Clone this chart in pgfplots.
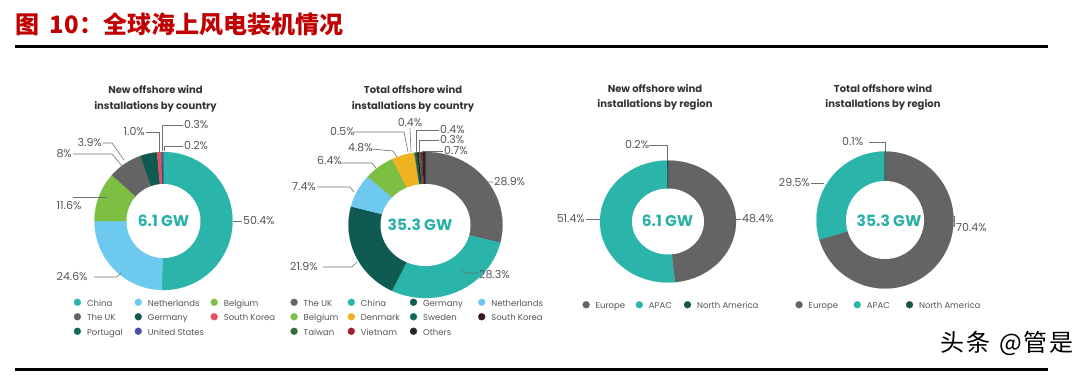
\documentclass[border=0pt]{standalone}
\usepackage{fontspec}
\setmainfont{Poppins}
\newfontfamily\cjk{Noto Sans CJK SC}
\usepackage{pgfplots}
\usepackage{pgfplotstable}
\pgfplotsset{compat=1.18}

\definecolor{cRed}{HTML}{C00000}
\definecolor{cTeal}{HTML}{2AB4AA}
\definecolor{cLBlue}{HTML}{6DC9EE}
\definecolor{cGreen}{HTML}{7CBF43}
\definecolor{cGray}{HTML}{646464}
\definecolor{cDTeal}{HTML}{0F5B52}
\definecolor{cPink}{HTML}{E4505F}
\definecolor{cPort}{HTML}{0E6A5C}
\definecolor{cUS}{HTML}{4B4FA6}
\definecolor{cYellow}{HTML}{EFB322}
\definecolor{cSweden}{HTML}{10695B}
\definecolor{cSKd}{HTML}{3B1B22}
\definecolor{cTaiwan}{HTML}{336E38}
\definecolor{cViet}{HTML}{A51D33}
\definecolor{cOthers}{HTML}{262626}
\definecolor{cNA}{HTML}{17554C}
\definecolor{cLab}{HTML}{555555}
\definecolor{cLine}{HTML}{707070}
\definecolor{cTitle}{HTML}{333333}
\definecolor{cCenter}{HTML}{2AB0A6}

% ---------------- data (percent shares) ----------------
\pgfplotstableread[col sep=comma]{
name,pct,color,lw
China,50.4,cTeal,49.7
Netherlands,24.6,cLBlue,64.7
Belgium,11.6,cGreen,60
The UK,8,cGray,49.7
Germany,3.9,cDTeal,64.7
South Korea,1.0,cPink,60
Portugal,0.3,cPort,49.7
United States,0.2,cUS,64.7
}\tNewCountry

\pgfplotstableread[col sep=comma]{
name,pct,color,lw
The UK,28.9,cGray,46
China,28.3,cTeal,51
Germany,21.9,cDTeal,57
Netherlands,7.4,cLBlue,60
Belgium,6.4,cGreen,46
Denmark,4.8,cYellow,51
Sweden,0.5,cSweden,57
South Korea,0.4,cSKd,60
Taiwan,0.4,cTaiwan,46
Vietnam,0.3,cViet,51
Others,0.7,cOthers,57
}\tTotCountry

\pgfplotstableread[col sep=comma]{
name,pct,color,lw
Europe,48.4,cGray,42
APAC,51.4,cTeal,37
North America,0.2,cNA,70
}\tNewRegion

\pgfplotstableread[col sep=comma]{
name,pct,color,lw
Europe,70.4,cGray,47
APAC,29.5,cTeal,41
North America,0.1,cNA,70
}\tTotRegion

\newcommand\legtxt[2]{\makebox[#1pt][l]{\rule[-3pt]{0pt}{12pt}\hspace{4pt}#2}}

% #1 table, #2 cx, #3 cy, #4 Rx, #5 Ry, #6 rx, #7 ry
\newcommand\drawdonut[7]{%
  \xdef\curang{90}%
  \pgfplotstablegetrowsof{#1}%
  \pgfmathtruncatemacro\lastrow{\pgfplotsretval-1}%
  \pgfplotsinvokeforeach{0,...,\lastrow}{%
    \pgfplotstablegetelem{##1}{pct}\of#1\let\vpct\pgfplotsretval
    \pgfplotstablegetelem{##1}{color}\of#1\let\vcol\pgfplotsretval
    \pgfplotstablegetelem{##1}{name}\of#1\let\vname\pgfplotsretval
    \pgfplotstablegetelem{##1}{lw}\of#1\let\vlw\pgfplotsretval
    \pgfmathsetmacro\nextang{\curang-3.6*\vpct}%
    \edef\tmp{\noexpand\addplot[fill=\vcol,draw=\vcol,line width=0.2pt,domain=\nextang:\curang,samples=60]
      ({#2+#4*cos(x)},{#3-#5*sin(x)}) -- (axis cs:#2,#3) -- cycle;
      \noexpand\addlegendentry{\noexpand\legtxt{\vlw}{\vname}}}%
    \tmp
    \xdef\curang{\nextang}%
  }%
  \edef\tmp{\noexpand\addplot[fill=white,draw=none,domain=0:360,samples=120,forget plot]
    ({#2+#6*cos(x)},{#3-#7*sin(x)}) -- cycle;}\tmp
}

\pgfplotsset{donutax/.style={
  at={(0,0)}, anchor=south west, scale only axis, width=1087pt, height=375pt,
  xmin=0, xmax=1087, ymin=0, ymax=375, y dir=reverse, hide axis, clip=false,
  legend image code/.code={\fill[##1] (3.5pt,0pt) circle (3.5pt);},
  legend cell align=left,
  legend style={draw=none, fill=none, inner sep=0pt, outer sep=0pt,
    column sep=0pt, row sep=0pt, font=\fontsize{8.5}{10}\selectfont,
    text=cLab, cells={anchor=west}},
}}
\tikzset{pl/.style={inner sep=0pt, text=cLab, font=\fontsize{11}{12}\selectfont},
  ll/.style={cLine, line width=0.6pt},
  ttl/.style={inner sep=0pt, align=center, text=cTitle, font=\bfseries\fontsize{10}{15.5}\selectfont},
  ctr/.style={inner sep=0pt, text=cCenter, font=\bfseries\fontsize{15.5}{16}\selectfont}}

\begin{document}
\begin{tikzpicture}
\path[use as bounding box] (0,0) rectangle (1087pt,375pt);

% ---------- chart 1 ----------
\begin{axis}[donutax, legend columns=3,
  legend style={at={(axis cs:73.8,295)}, anchor=north west}]
\drawdonut{\tNewCountry}{163.5}{221}{69}{69}{37}{37}
% page title and rules
\node[anchor=west, inner sep=0pt, text=cRed, font=\cjk\bfseries\fontsize{24}{24}\selectfont] at (axis cs:15,24) {图\hspace{0.45em}10：全球海上风电装机情况};
\draw[black, line width=2.6pt] (axis cs:15,46.5) -- (axis cs:1048,46.5);
\draw[black, line width=2.4pt] (axis cs:15,369.5) -- (axis cs:1048,369.5);
\node[anchor=east, inner sep=0pt, text=black, font=\cjk\fontsize{24}{24}\selectfont] at (axis cs:1074,343) {头\hspace{2pt}条\hspace{9pt}@\hspace{2pt}管\hspace{2pt}是};
% chart 1 annotations
\node[ttl] at (axis cs:155.5,99) {New offshore wind\\installations by country};
\node[ctr] at (axis cs:163.5,221) {6.1 GW};
\node[pl, anchor=west] at (axis cs:184,125) {0.3\%};
\draw[ll] (axis cs:183,125) -- (axis cs:162,125) -- (axis cs:162,151);
\node[pl, anchor=west] at (axis cs:184,146) {0.2\%};
\draw[ll] (axis cs:183,146) -- (axis cs:164.5,146) -- (axis cs:164.5,151);
\node[pl, anchor=east] at (axis cs:145,132) {1.0\%};
\draw[ll] (axis cs:146,132) -- (axis cs:159.5,132) -- (axis cs:159.5,152);
\node[pl, anchor=east] at (axis cs:102,143) {3.9\%};
\draw[ll] (axis cs:103,143) -- (axis cs:112,143) -- (axis cs:124,160);
\node[pl, anchor=east] at (axis cs:72,154) {8\%};
\draw[ll] (axis cs:73,154) -- (axis cs:112,154) -- (axis cs:127,172);
\node[pl, anchor=west] at (axis cs:56.5,206) {11.6\%};
\draw[ll] (axis cs:73,197) -- (axis cs:107,197);
\node[pl, anchor=west] at (axis cs:56.5,277) {24.6\%};
\draw[ll] (axis cs:94,277) -- (axis cs:117,277) -- (axis cs:121,273);
\node[pl, anchor=west] at (axis cs:243,221) {50.4\%};
\draw[ll] (axis cs:232.5,221) -- (axis cs:242,221);
\end{axis}

% ---------- chart 2 ----------
\begin{axis}[donutax, legend columns=4,
  legend style={at={(axis cs:290.5,295)}, anchor=north west}]
\drawdonut{\tTotCountry}{425.5}{225}{77}{73}{45}{41}
\node[ttl] at (axis cs:413,99) {Total offshore wind\\installations by country};
\node[ctr] at (axis cs:420,225) {35.3 GW};
\node[pl, anchor=west] at (axis cs:330,132) {0.5\%};
\draw[ll] (axis cs:354,132) -- (axis cs:404,132) -- (axis cs:408,152);
\node[pl] at (axis cs:410,123) {0.4\%};
\draw[ll] (axis cs:410,128) -- (axis cs:411,152);
\node[pl, anchor=west] at (axis cs:440,130) {0.4\%};
\draw[ll] (axis cs:439,130) -- (axis cs:416,130) -- (axis cs:416,152);
\node[pl, anchor=west] at (axis cs:440,140) {0.3\%};
\draw[ll] (axis cs:439,140) -- (axis cs:419,140) -- (axis cs:419,152);
\node[pl, anchor=west] at (axis cs:444,151) {0.7\%};
\draw[ll] (axis cs:443,151) -- (axis cs:422,151) -- (axis cs:422,153);
\node[pl, anchor=west] at (axis cs:348,148) {4.8\%};
\draw[ll] (axis cs:371,149) -- (axis cs:393,151) -- (axis cs:397,157);
\node[pl, anchor=west] at (axis cs:317,161) {6.4\%};
\draw[ll] (axis cs:341,163) -- (axis cs:372,163) -- (axis cs:376,168);
\node[pl, anchor=west] at (axis cs:292,187) {7.4\%};
\draw[ll] (axis cs:317,187) -- (axis cs:350,187) -- (axis cs:354,192);
\node[pl, anchor=west] at (axis cs:290,267) {21.9\%};
\draw[ll] (axis cs:323,267) -- (axis cs:352,267) -- (axis cs:357,262);
\node[pl, anchor=west] at (axis cs:479,275) {28.3\%};
\draw[ll] (axis cs:478,273) -- (axis cs:466,273) -- (axis cs:462,270);
\node[pl, anchor=west] at (axis cs:494,182) {28.9\%};
\draw[ll] (axis cs:493,182) -- (axis cs:486,182) -- (axis cs:481,185);
\end{axis}

% ---------- chart 3 ----------
\begin{axis}[donutax, legend columns=3,
  legend style={at={(axis cs:582.5,297.5)}, anchor=north west}]
\drawdonut{\tNewRegion}{668}{221.5}{68}{61}{36}{33}
\node[ttl] at (axis cs:655,97.5) {New offshore wind\\installations by region};
\node[ctr] at (axis cs:667.5,221) {6.1 GW};
\node[pl, anchor=west] at (axis cs:625,145) {0.2\%};
\draw[ll] (axis cs:649,145) -- (axis cs:667,145) -- (axis cs:667,161);
\node[pl, anchor=east] at (axis cs:585,219) {51.4\%};
\draw[ll] (axis cs:586,219) -- (axis cs:600,219);
\node[pl, anchor=west] at (axis cs:742,219) {48.4\%};
\draw[ll] (axis cs:736,219) -- (axis cs:741,219);
\end{axis}

% ---------- chart 4 ----------
\begin{axis}[donutax, legend columns=3,
  legend style={at={(axis cs:795.5,297.5)}, anchor=north west}]
\drawdonut{\tTotRegion}{885}{220}{68.5}{68.5}{39}{39}
\node[ttl] at (axis cs:883,97.5) {Total offshore wind\\installations by region};
\node[ctr] at (axis cs:889,221) {35.3 GW};
\node[pl, anchor=west] at (axis cs:842,142) {0.1\%};
\draw[ll] (axis cs:869,142) -- (axis cs:885,142) -- (axis cs:885,152);
\node[pl, anchor=east] at (axis cs:810,183) {29.5\%};
\draw[ll] (axis cs:811,183) -- (axis cs:824,183);
\node[pl, anchor=west] at (axis cs:956,228) {70.4\%};
\draw[ll] (axis cs:950,216) -- (axis cs:954,216) -- (axis cs:954,227);
\end{axis}
\end{tikzpicture}
\end{document}
